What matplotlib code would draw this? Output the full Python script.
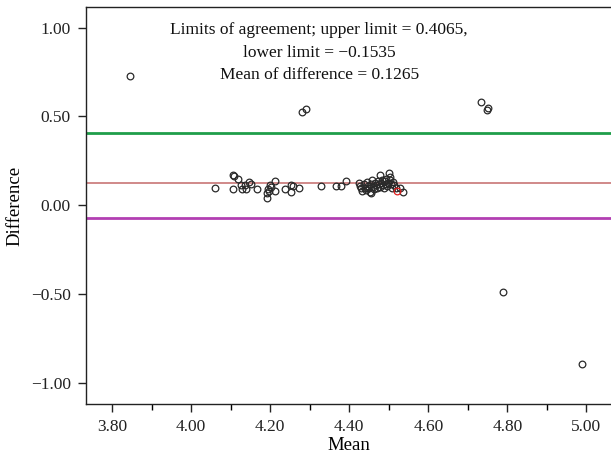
import matplotlib
matplotlib.use("Agg")
import matplotlib.pyplot as plt
from matplotlib.ticker import MultipleLocator, FuncFormatter

# ---- data ----
mean_vals = [3.844, 4.281, 4.291, 4.732, 4.748, 4.752, 4.788, 4.988,
             4.061, 4.107, 4.109, 4.119, 4.107, 4.126, 4.128, 4.138, 4.136,
             4.146, 4.151, 4.167, 4.191, 4.192, 4.197, 4.200, 4.202, 4.212,
             4.212, 4.195, 4.238, 4.253, 4.253, 4.258, 4.273, 4.329, 4.366,
             4.379, 4.392,
             4.425, 4.428, 4.430, 4.432, 4.436, 4.440, 4.442, 4.446, 4.448,
             4.450, 4.452, 4.455, 4.456, 4.458, 4.460, 4.463, 4.466, 4.468,
             4.470, 4.472, 4.475, 4.477, 4.478, 4.480, 4.483, 4.485, 4.487,
             4.490, 4.492, 4.494, 4.496, 4.498, 4.500, 4.502, 4.504, 4.506,
             4.508, 4.510, 4.513, 4.518, 4.527, 4.535]
diff_vals = [0.730, 0.524, 0.543, 0.584, 0.537, 0.545, -0.489, -0.893,
             0.099, 0.170, 0.164, 0.148, 0.090, 0.114, 0.090, 0.090, 0.114,
             0.129, 0.121, 0.090, 0.039, 0.067, 0.082, 0.114, 0.101, 0.138,
             0.080, 0.090, 0.090, 0.114, 0.073, 0.108, 0.099, 0.110, 0.110,
             0.110, 0.138,
             0.125, 0.110, 0.095, 0.080, 0.118, 0.100, 0.088, 0.130, 0.110,
             0.095, 0.075, 0.120, 0.068, 0.140, 0.105, 0.090, 0.125, 0.112,
             0.098, 0.135, 0.118, 0.170, 0.105, 0.128, 0.142, 0.112, 0.098,
             0.135, 0.120, 0.150, 0.108, 0.128, 0.180, 0.160, 0.140, 0.118,
             0.100, 0.132, 0.115, 0.100, 0.095, 0.077]
highlight_mean = [4.520]
highlight_diff = [0.082]

upper_limit = 0.4065
mean_diff = 0.1265
lower_line = -0.073

x_ticks = [3.80, 4.00, 4.20, 4.40, 4.60, 4.80, 5.00]
y_ticks = [-1.00, -0.50, 0.00, 0.50, 1.00]

annotation = ["Limits of agreement; upper limit = 0.4065,",
              "lower limit = \u22120.1535",
              "Mean of difference = 0.1265"]

# ---- plot ----
plt.rcParams['font.family'] = ['Liberation Serif', 'DejaVu Serif']
fig = plt.figure(figsize=(6.11, 4.57), dpi=100)
ax = fig.add_axes([0.1408, 0.1160, 0.8592, 0.868])

ax.axhline(upper_limit, color='#1f9e4a', lw=2.0, zorder=1)
ax.axhline(mean_diff, color='#c46a6a', lw=1.1, zorder=1)
ax.axhline(lower_line, color='#b23fb2', lw=2.0, zorder=1)

ax.plot(mean_vals, diff_vals, linestyle='none', marker='o', markersize=4.8,
        markerfacecolor='none', markeredgecolor='#2a2a2a', markeredgewidth=0.9,
        zorder=3)
ax.plot(highlight_mean, highlight_diff, linestyle='none', marker='o', markersize=4.8,
        markerfacecolor='none', markeredgecolor='#e02020', markeredgewidth=0.9,
        zorder=4)

ax.set_xlim(3.734, 5.062)
ax.set_ylim(-1.118, 1.114)
ax.set_xticks(x_ticks)
ax.set_yticks(y_ticks)
ax.xaxis.set_minor_locator(MultipleLocator(0.1))
fmt = FuncFormatter(lambda v, p: f"{v:.2f}".replace('-', '\u2212'))
ax.xaxis.set_major_formatter(fmt)
ax.yaxis.set_major_formatter(fmt)
ax.tick_params(axis='both', which='major', direction='out', length=6, width=1,
               labelsize=12.5, colors='#222222', pad=5)
ax.tick_params(axis='x', which='minor', direction='out', length=4, width=1)

for s in ['left', 'bottom', 'top']:
    ax.spines[s].set_linewidth(1.0)
    ax.spines[s].set_color('#222222')
ax.spines['right'].set_visible(False)

ax.set_xlabel('Mean', fontsize=13.5, labelpad=1)
ax.set_ylabel('Difference', fontsize=13.5, labelpad=5)

ys = [0.985, 0.858, 0.732]
for t, yy in zip(annotation, ys):
    ax.text(4.324, yy, t, ha='center', va='center', fontsize=12.5, color='#111111')

fig.savefig('out.png', dpi=100)
